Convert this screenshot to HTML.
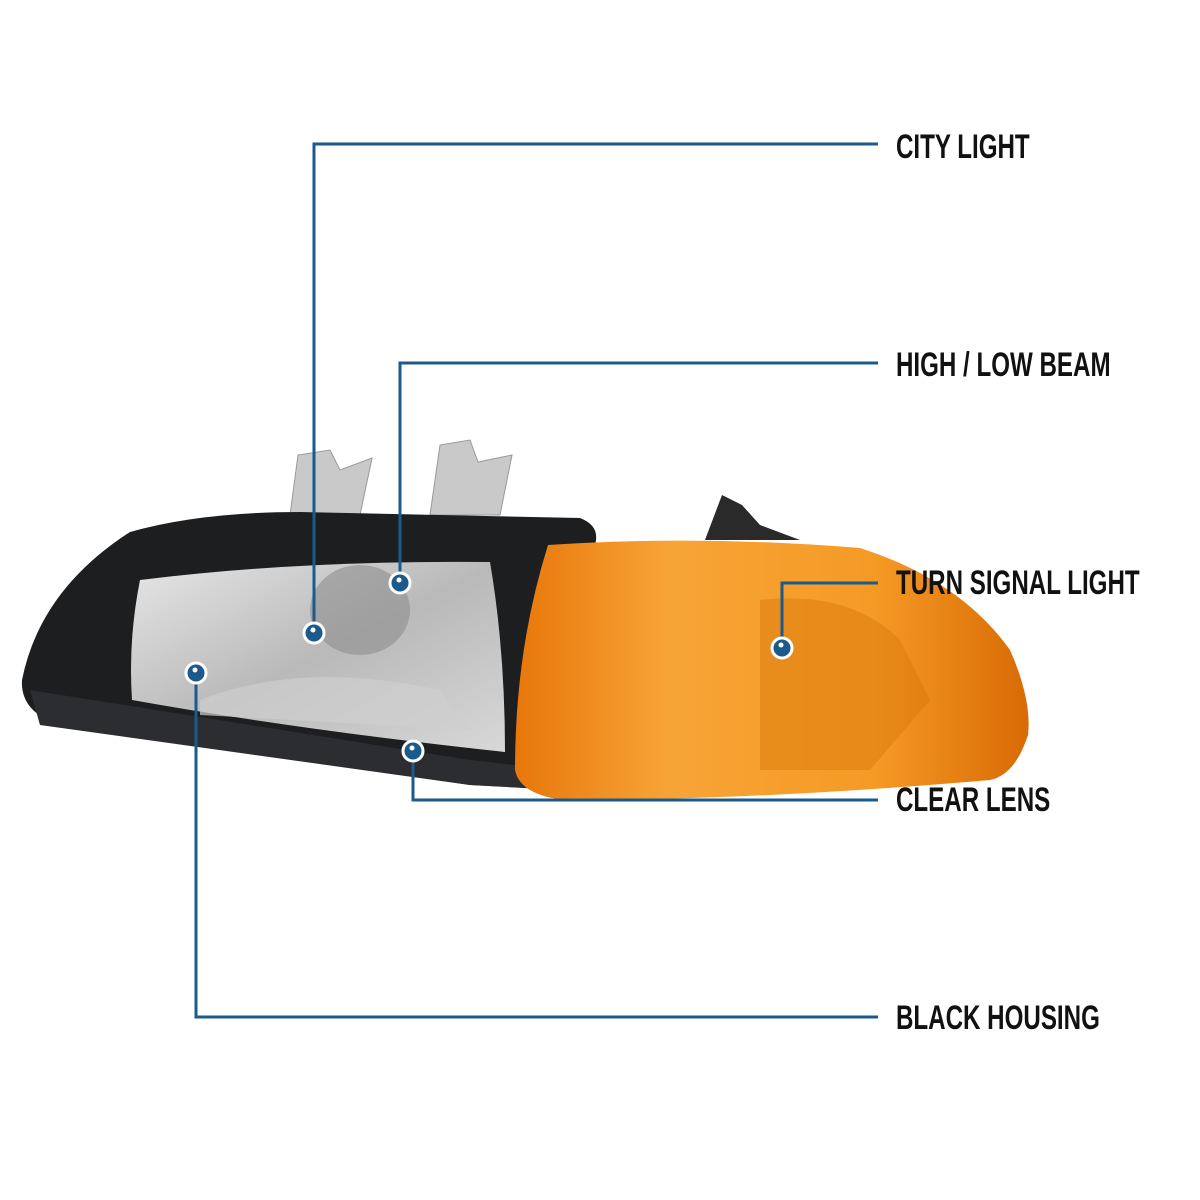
<!DOCTYPE html>
<html><head><style>
html,body{margin:0;padding:0;background:#fff;}
.t{position:absolute;left:896px;font-family:"Liberation Sans Narrow","Liberation Sans",sans-serif;font-weight:bold;font-size:34px;color:#111;transform:scaleX(0.71);transform-origin:left center;white-space:nowrap;line-height:1;}
</style></head><body>
<div style="position:relative;width:1200px;height:1200px;overflow:hidden">
<svg width="1200" height="1200" style="position:absolute;left:0;top:0">
<defs>
<linearGradient id="am" x1="0" y1="0" x2="1" y2="0">
<stop offset="0" stop-color="#e8770a"/><stop offset="0.3" stop-color="#f7a437"/><stop offset="0.7" stop-color="#f59a25"/><stop offset="1" stop-color="#d96a05"/></linearGradient>
<linearGradient id="ln" x1="0" y1="0" x2="1" y2="1">
<stop offset="0" stop-color="#e6e6e6"/><stop offset="0.5" stop-color="#b9b9b9"/><stop offset="1" stop-color="#d8d8d8"/></linearGradient>
</defs>
<path d="M290 515 L298 455 L330 450 L340 470 L372 458 L360 515Z" fill="#c9c9c9" stroke="#999"/>
<path d="M430 515 L440 445 L470 440 L478 462 L512 455 L500 515Z" fill="#c9c9c9" stroke="#999"/>
<path d="M705 540 L722 495 L742 505 L760 525 L800 540Z" fill="#2a2a2a"/>
<path d="M130 532 Q200 512 300 512 L580 518 Q598 525 596 540 L565 790 L470 785 L60 725 Q20 712 22 680 Q40 590 130 532Z" fill="#1d1e20"/>
<path d="M30 690 L470 760 L560 770 L560 790 L470 785 L40 725Z" fill="#2c2d30"/>
<path d="M140 580 Q300 560 490 562 Q505 650 505 752 Q300 730 132 700 Q128 640 140 580Z" fill="url(#ln)"/>
<ellipse cx="360" cy="610" rx="50" ry="45" fill="#8d8d8d" opacity="0.6"/>
<path d="M200 700 Q300 660 440 690 L470 730 L200 715Z" fill="#cfcfcf" opacity="0.7"/>
<path d="M548 545 Q700 535 860 548 Q960 580 1010 650 Q1032 700 1028 735 Q1015 775 990 780 Q760 800 565 800 Q520 795 515 770 Q515 650 548 545Z" fill="url(#am)"/>
<path d="M760 600 Q850 590 900 640 L930 700 L870 770 L760 770Z" fill="#d97a0c" opacity="0.5"/>
<g stroke="#1d5a8c" stroke-width="3" fill="none">
<polyline points="314,633 314,144 878,144"/>
<polyline points="400,583 400,363 878,363"/>
<polyline points="782,648 782,583 878,583"/>
<polyline points="413,751 413,800 878,800"/>
<polyline points="196,673 196,1017 878,1017"/>
</g>
<g>
<g fill="#1d5a8c" stroke="#fff" stroke-width="3">
<circle cx="314" cy="633" r="10"/><circle cx="400" cy="583" r="10"/><circle cx="782" cy="648" r="10"/><circle cx="413" cy="751" r="10"/><circle cx="196" cy="673" r="10"/>
</g>
<g fill="#fff">
<circle cx="313" cy="630" r="2.5"/><circle cx="399" cy="580" r="2.5"/><circle cx="781" cy="645" r="2.5"/><circle cx="412" cy="748" r="2.5"/><circle cx="195" cy="670" r="2.5"/>
</g></g>
</svg>
<div class="t" style="top:130px">CITY LIGHT</div>
<div class="t" style="top:348px">HIGH / LOW BEAM</div>
<div class="t" style="top:566px">TURN SIGNAL LIGHT</div>
<div class="t" style="top:783px">CLEAR LENS</div>
<div class="t" style="top:1001px">BLACK HOUSING</div>
</div>
</body></html>
